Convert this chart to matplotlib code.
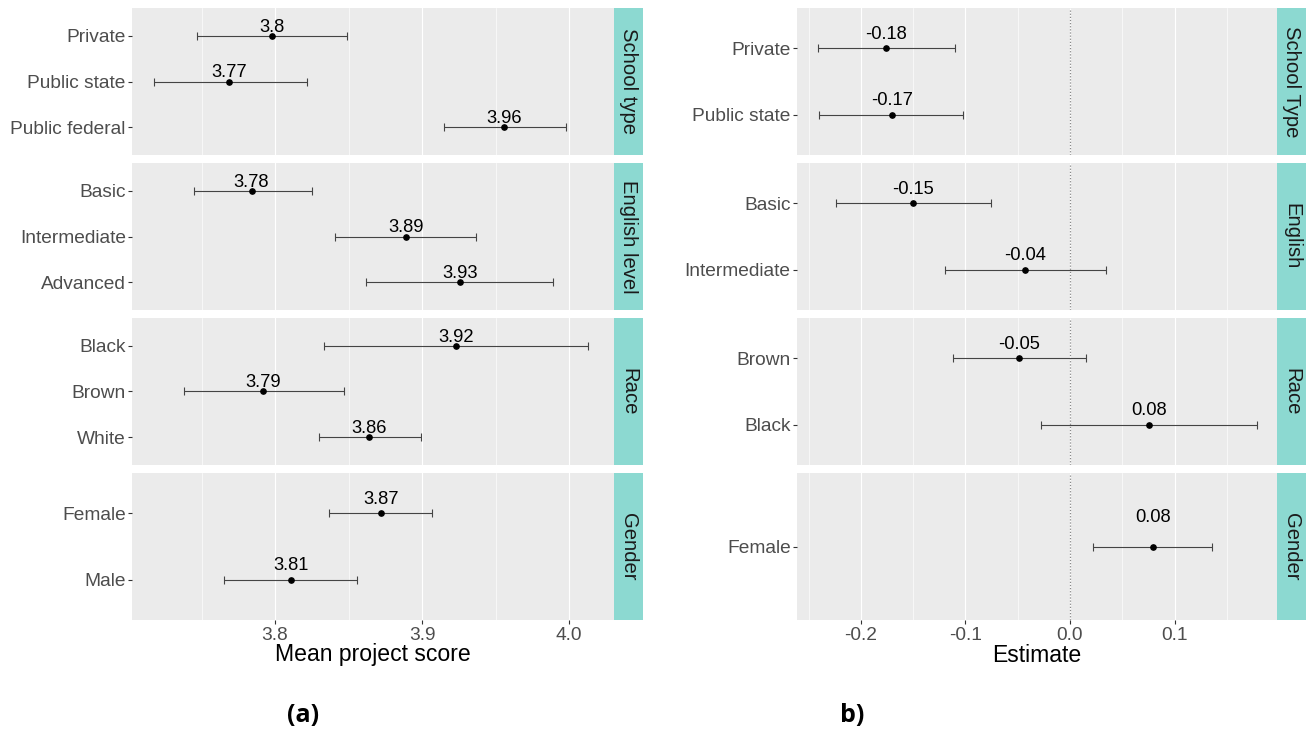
import matplotlib
matplotlib.use("Agg")
import matplotlib.pyplot as plt
from matplotlib.transforms import ScaledTranslation

plt.rcParams['font.family'] = ['Liberation Sans', 'DejaVu Sans']

# ---------------- data ----------------
left_groups = ["School type", "English level", "Race", "Gender"]
left_cats = [["Private", "Public state", "Public federal"],
             ["Basic", "Intermediate", "Advanced"],
             ["Black", "Brown", "White"],
             ["Female", "Male"]]
left_mean = [[3.798, 3.769, 3.956], [3.784, 3.889, 3.926],
             [3.923, 3.792, 3.864], [3.872, 3.811]]
left_lo = [[3.747, 3.718, 3.915], [3.745, 3.841, 3.862],
           [3.833, 3.738, 3.830], [3.837, 3.765]]
left_hi = [[3.849, 3.822, 3.998], [3.825, 3.937, 3.989],
           [4.013, 3.847, 3.899], [3.907, 3.856]]
left_text = [["3.8", "3.77", "3.96"], ["3.78", "3.89", "3.93"],
             ["3.92", "3.79", "3.86"], ["3.87", "3.81"]]
left_xticks = [3.8, 3.9, 4.0]
left_xticklabels = ["3.8", "3.9", "4.0"]
left_minor = [3.75, 3.85, 3.95]

right_groups = ["School Type", "English", "Race", "Gender"]
right_cats = [["Private", "Public state"],
              ["Basic", "Intermediate"],
              ["Brown", "Black"],
              ["Female"]]
right_est = [[-0.1755, -0.1704], [-0.1498, -0.0427], [-0.0486, 0.0759], [0.0791]]
right_lo = [[-0.2407, -0.2395], [-0.2237, -0.1194], [-0.1119, -0.0277], [0.0217]]
right_hi = [[-0.1103, -0.1020], [-0.0751, 0.0348], [0.0150, 0.1791], [0.1360]]
right_text = [["-0.18", "-0.17"], ["-0.15", "-0.04"], ["-0.05", "0.08"], ["0.08"]]
right_xticks = [-0.2, -0.1, 0.0, 0.1]
right_xticklabels = ["-0.2", "-0.1", "0.0", "0.1"]
right_minor = [-0.25, -0.15, -0.05, 0.05, 0.15]

# ---------------- layout ----------------
W, H = 1307, 733
fig = plt.figure(figsize=(W / 100, H / 100), dpi=100)

def rect(x0, y0, x1, y1):
    return [x0 / W, 1 - y1 / H, (x1 - x0) / W, (y1 - y0) / H]

facet_y = [(8, 155), (163, 310), (318, 465), (473, 620)]
PANEL = '#EBEBEB'
STRIP = '#8CD9D1'
TICKC = '#4D4D4D'


def draw_panel(px0, px1, sx1, xlim, groups, cats, vals, los, his, texts,
               xticks, xticklabels, minor, zero_line):
    for i, (y0, y1) in enumerate(facet_y):
        ax = fig.add_axes(rect(px0, y0, px1, y1))
        ax.set_facecolor(PANEL)
        for s in ax.spines.values():
            s.set_visible(False)
        n = len(cats[i])
        pos = list(range(1, n + 1))
        ax.set_xlim(*xlim)
        ax.set_ylim(n + 0.6, 0.4)
        for m in minor:
            ax.axvline(m, color='white', lw=0.45, zorder=0)
        for m in xticks:
            ax.axvline(m, color='white', lw=0.85, zorder=0)
        if zero_line:
            ax.axvline(0, color='#8A8A8A', lw=0.9, ls=(0, (1, 1.5)), zorder=1)
        v = vals[i]
        lo = [v[k] - los[i][k] for k in range(n)]
        hi = [his[i][k] - v[k] for k in range(n)]
        ax.errorbar(v, pos, xerr=[lo, hi], fmt='none', ecolor='#444444',
                    elinewidth=0.8, capsize=2.8, capthick=0.8, zorder=2)
        ax.plot(v, pos, 'o', color='black', ms=3.8, zorder=3)
        trans = ax.transData + ScaledTranslation(0, -8.0 / 100, fig.dpi_scale_trans)
        for k in range(n):
            ax.text(v[k], pos[k] - 0.262, texts[i][k], transform=trans,
                    ha='center', va='baseline', fontsize=13.2, color='black')
        ax.set_yticks(pos)
        ax.set_yticklabels(cats[i])
        ax.tick_params(axis='y', length=3, width=0.8, color='#333333',
                       labelsize=13.8, labelcolor=TICKC, pad=1.5)
        if i == len(facet_y) - 1:
            ax.set_xticks(xticks)
            ax.set_xticklabels(xticklabels)
            ax.tick_params(axis='x', length=3, width=0.8, color='#333333',
                           labelsize=13.8, labelcolor=TICKC, pad=2)
        else:
            ax.set_xticks([])
        # strip
        sax = fig.add_axes(rect(px1, y0, sx1, y1))
        sax.set_facecolor(STRIP)
        for s in sax.spines.values():
            s.set_visible(False)
        sax.set_xticks([])
        sax.set_yticks([])
        sax.text(0.5, 0.5, groups[i], rotation=-90, ha='center', va='center',
                 fontsize=14.6, color='#1A1A1A', transform=sax.transAxes)


draw_panel(132, 614, 643, (3.7027, 4.0306), left_groups, left_cats, left_mean,
           left_lo, left_hi, left_text, left_xticks, left_xticklabels,
           left_minor, False)
draw_panel(797, 1277, 1306, (-0.261, 0.198), right_groups, right_cats, right_est,
           right_lo, right_hi, right_text, right_xticks, right_xticklabels,
           right_minor, True)

fig.text(373 / W, 1 - 655 / H, "Mean project score", ha='center', va='center',
         fontsize=16.6, color='black')
fig.text(1037 / W, 1 - 655 / H, "Estimate", ha='center', va='center',
         fontsize=16.6, color='black')
fig.text(303 / W, 1 - 716 / H, "(a)", ha='center', va='center', fontsize=18,
         fontweight='bold', family=['Open Sans', 'DejaVu Sans'])
fig.text(852 / W, 1 - 716 / H, "b)", ha='center', va='center', fontsize=18,
         fontweight='bold', family=['Open Sans', 'DejaVu Sans'])

fig.savefig("out.png", dpi=100, facecolor='white')
